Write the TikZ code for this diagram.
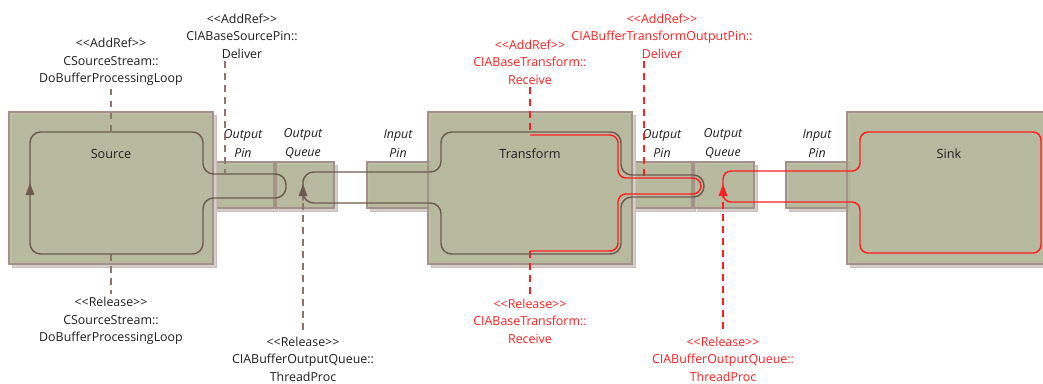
\documentclass[tikz,border=0pt]{standalone}
\usepackage{fontspec}
\setmainfont{Open Sans}
\usetikzlibrary{shadows}
\definecolor{boxfill}{HTML}{B4B799}
\definecolor{boxdraw}{HTML}{A3918A}
\definecolor{shfill}{HTML}{D6D0CC}
\definecolor{shdraw}{HTML}{CBBDBB}
\definecolor{loopc}{HTML}{6E5A50}
\definecolor{dashc}{HTML}{8A776E}
\definecolor{redc}{HTML}{FF1E1E}
\definecolor{textc}{HTML}{1E1E1E}
\begin{document}
\begin{tikzpicture}[x=0.75pt,y=-0.75pt,
  box/.style 2 args={draw=boxdraw, line width=0.9pt, fill=boxfill, fill opacity=0.88,
    inner sep=0pt, outer sep=0pt, minimum width={#1*0.75pt}, minimum height={#2*0.75pt},
    copy shadow={shadow xshift=2.6pt, shadow yshift=-2.6pt, fill=shfill, draw=shdraw, fill opacity=1}},
  loopb/.style={draw=loopc, line width=1.1pt, rounded corners=8pt},
  loopr/.style={draw=redc, line width=1.1pt, rounded corners=6pt},
  refb/.style={draw=dashc, line width=1pt, dash pattern=on 5pt off 4pt},
  refr/.style={draw=redc, line width=1pt, dash pattern=on 5pt off 4pt},
  lbl/.style={align=center, font=\fontsize{9.3}{13.1}\selectfont, text=textc, inner sep=2pt},
  lblr/.style={lbl, text=redc},
  pinlbl/.style={align=center, font=\fontsize{9.3}{14}\selectfont\itshape, text=textc, inner sep=0pt},
  title/.style={font=\fontsize{9.5}{12}\selectfont, text=textc, inner sep=0pt}]
\useasboundingbox (0,0) rectangle (1043,383);
\clip (0,0) rectangle (1043,383);
% pins and queues
\node[box={61}{46}] (srcpin) at (243.5,185) {};
\node[box={58}{46}] (srcq) at (305,185) {};
\node[box={65}{46}] (tinpin) at (399.5,185) {};
\node[box={60}{46}] (toutpin) at (662,185) {};
\node[box={60}{46}] (tq) at (724,185) {};
\node[box={64}{46}] (sinpin) at (818,185) {};
% filters
\node[box={204}{152}] (source) at (111,188) {};
\node[box={204}{152}] (transform) at (530,188) {};
\node[box={213}{152}] (sink) at (953.5,188) {};
% titles
\node[title] (tsource) at (111,154) {Source};
\node[title] (ttransform) at (530,154) {Transform};
\node[title] (tsink) at (949,154) {Sink};
% pin labels
\node[pinlbl] (l1) at (243,143.5) {Output\\Pin};
\node[pinlbl] (l2) at (303,143.5) {Output\\Queue};
\node[pinlbl] (l3) at (398,143.5) {Input\\Pin};
\node[pinlbl] (l4) at (662,143.5) {Output\\Pin};
\node[pinlbl] (l5) at (723,143.5) {Output\\Queue};
\node[pinlbl] (l6) at (817,143.5) {Input\\Pin};
% reference labels
\node[lbl] (la1) at (111,62) {<{}<AddRef>{}>\\CSourceStream::\\DoBufferProcessingLoop};
\node[lbl] (lr1) at (111,321) {<{}<Release>{}>\\CSourceStream::\\DoBufferProcessingLoop};
\node[lbl] (la2) at (242,36) {<{}<AddRef>{}>\\CIABaseSourcePin::\\Deliver};
\node[lbl] (lr2) at (303,359) {<{}<Release>{}>\\CIABufferOutputQueue::\\ThreadProc};
\node[lblr] (la3) at (530,62) {<{}<AddRef>{}>\\CIABaseTransform::\\Receive};
\node[lblr] (lr3) at (530,321) {<{}<Release>{}>\\CIABaseTransform::\\Receive};
\node[lblr] (la4) at (662,36) {<{}<AddRef>{}>\\CIABufferTransformOutputPin::\\Deliver};
\node[lblr] (lr4) at (723,359) {<{}<Release>{}>\\CIABufferOutputQueue::\\ThreadProc};
% attachment points
\coordinate (p1) at (111,132);
\coordinate (q1) at (111,254);
\coordinate (p2) at (225,173);
\coordinate (q2) at (303,203);
\coordinate (p3) at (530,135);
\coordinate (q3) at (530,251);
\coordinate (p4) at (644,178);
\coordinate (q4) at (723,202);
% dashed reference lines
\draw[refb] (la1.south) -- (p1);
\draw[refb] (q1) -- (lr1.north);
\draw[refb] (la2.south -| p2) -- (p2);
\draw[refb] (q2) -- (lr2.north);
\draw[refr] (la3.south) -- (p3);
\draw[refr] (q3) -- (lr3.north);
\draw[refr] (la4.south -| p4) -- (p4);
\draw[refr] (q4) -- (lr4.north);
% buffer loops
\draw[loopb] (30,190) -- (30,132) -- (203,132) -- (203,174) -- (286,174) -- (286,198)
  -- (203,198) -- (203,254) -- (30,254) -- cycle;
\draw[loopb] (303,190) -- (303,172) -- (441,172) -- (441,132) -- (621,132) -- (621,175)
  -- (704,175) -- (704,197) -- (621,197) -- (621,254) -- (441,254) -- (441,203)
  -- (303,203) -- cycle;
\draw[loopr] (p3) -- (618,135) -- (618,178) -- (701,178) -- (701,194) -- (618,194)
  -- (618,251) -- (q3);
\draw[loopr] (723,190) -- (723,171) -- (860,171) -- (860,132) -- (1041,132) -- (1041,253)
  -- (860,253) -- (860,202) -- (723,202) -- cycle;
% arrow heads
\fill[loopc] (30,183) -- (25.5,195) -- (34.5,195) -- cycle;
\fill[loopc] (303,184) -- (298.5,196) -- (307.5,196) -- cycle;
\fill[redc] (723,184) -- (718.5,196) -- (727.5,196) -- cycle;
\end{tikzpicture}
\end{document}
